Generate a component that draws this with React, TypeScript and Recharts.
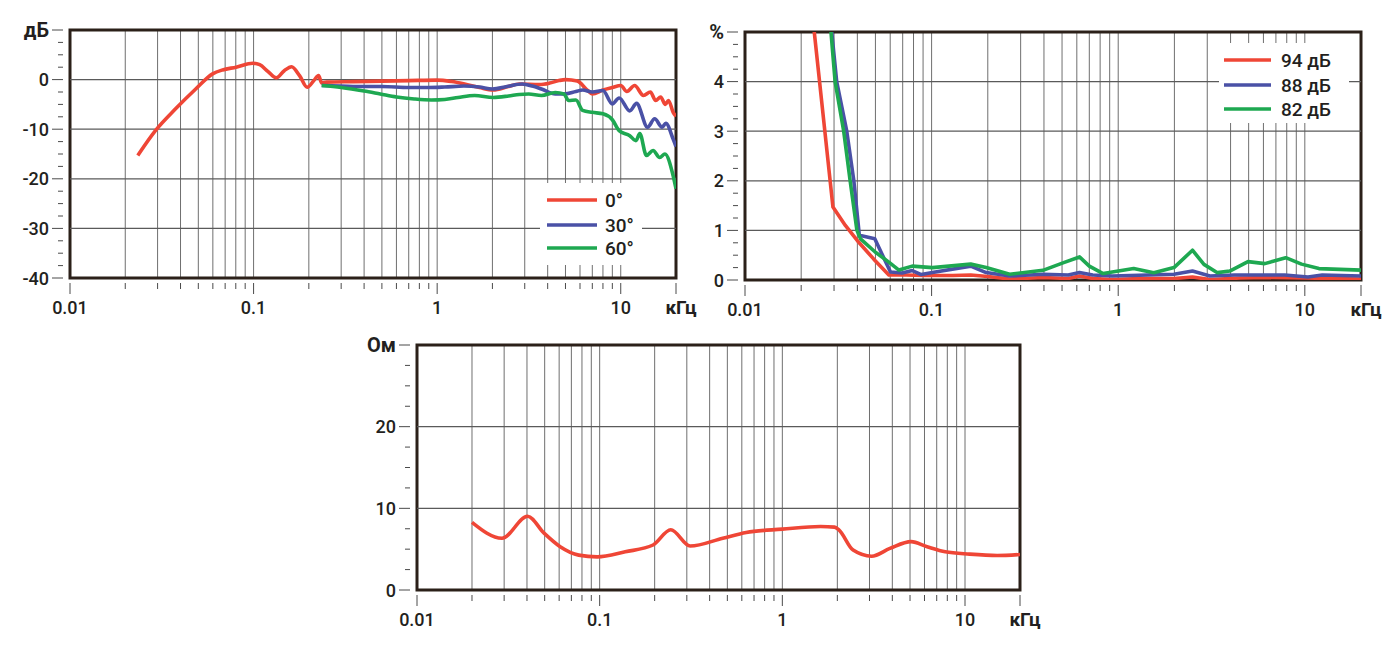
import React from 'react';
import {
  LineChart,
  Line,
  XAxis,
  YAxis,
  CartesianGrid,
  ReferenceLine,
  ReferenceArea,
  Legend,
} from 'recharts';

type Pt = [number, number];

const FONT = 'Roboto, "Noto Sans", sans-serif';
const INK = '#231f20';
const FRAME = '#2b2019';
const GRID = '#6f6f6f';
const GRID_H = '#5a5a5a';
const RED = '#ef4636';
const BLUE = '#4a51a6';
const GREEN = '#1ea851';

// frequency axis (kHz), shared by all three panels
const freqTicks = [
  0.01, 0.02, 0.03, 0.04, 0.05, 0.06, 0.07, 0.08, 0.09,
  0.1, 0.2, 0.3, 0.4, 0.5, 0.6, 0.7, 0.8, 0.9,
  1, 2, 3, 4, 5, 6, 7, 8, 9,
  10, 20,
];
const freqLabelValues = [0.01, 0.1, 1, 10, 20];
const freqLabelText = ['0.01', '0.1', '1', '10', 'кГц'];

// frequency response, dB
const respTicks = [
  -40, -37.5, -35, -32.5, -30, -27.5, -25, -22.5, -20, -17.5, -15, -12.5,
  -10, -7.5, -5, -2.5, 0, 2.5, 5, 7.5, 10,
];
const respMajors = [-40, -30, -20, -10, 0, 10];
const respLabels = ['-40', '-30', '-20', '-10', '0', 'дБ'];
const respGrid = [-30, -20, -10, 0];

const resp0: Pt[] = [
  [0.0234, -15.3], [0.0292, -10.3], [0.0376, -5.9], [0.0484, -1.9], [0.0598, 1.15],
  [0.0678, 1.95], [0.0803, 2.5], [0.099, 3.3], [0.108, 3.0], [0.12, 1.6],
  [0.133, 0.35], [0.147, 1.8], [0.161, 2.6], [0.178, 0.8], [0.196, -1.55],
  [0.213, -0.2], [0.226, 0.8], [0.235, -0.7], [0.25, -0.5], [0.35, -0.4],
  [0.5, -0.3], [0.7, -0.2], [1.0, -0.1], [1.2, -0.4], [1.41, -0.9],
  [1.7, -1.6], [2.02, -2.1], [2.44, -1.4], [2.8, -0.9], [3.6, -1.0],
  [4.1, -0.7], [4.6, -0.2], [5.0, 0], [5.8, -0.3], [6.6, -2.2],
  [7.0, -2.9], [8.0, -2.1], [9.0, -1.6], [10, -1.2], [10.8, -2.4],
  [11.9, -1.2], [13.3, -3.2], [14.5, -2.5], [15.5, -4.2], [16.5, -3.5],
  [17.5, -5.0], [18.2, -4.2], [19.3, -6.6], [20, -7.4],
];
const resp30: Pt[] = [
  [0.235, -1.2], [0.3, -1.3], [0.4, -1.4], [0.5, -1.4], [0.7, -1.6],
  [0.9, -1.6], [1.1, -1.5], [1.4, -1.3], [1.7, -1.5], [2.0, -1.9],
  [2.4, -1.4], [2.9, -0.9], [3.3, -1.3], [3.7, -1.9], [4.4, -2.9],
  [4.9, -2.9], [5.7, -2.4], [6.2, -2.1], [7.0, -2.5], [8.0, -2.2],
  [9.0, -4.9], [9.8, -3.7], [11.2, -6.3], [12.2, -4.8], [14, -9.6],
  [15.3, -7.9], [16.8, -9.6], [17.6, -8.8], [19.3, -12], [20, -13.5],
];
const resp60: Pt[] = [
  [0.235, -1.2], [0.3, -1.6], [0.4, -2.3], [0.49, -2.9], [0.6, -3.5],
  [0.75, -3.9], [0.93, -4.1], [1.1, -4.0], [1.3, -3.6], [1.6, -3.2],
  [2.02, -3.6], [2.45, -3.3], [2.8, -3.0], [3.15, -2.9], [3.7, -3.2],
  [4.4, -2.6], [4.9, -2.9], [5.2, -4.2], [5.7, -4.1], [6.2, -6.2],
  [7.0, -6.6], [8.0, -6.9], [9.0, -8.1], [9.8, -10.3], [11.2, -11.3],
  [12.1, -12.3], [12.7, -10.9], [13.8, -15.3], [15, -14.3], [16.3, -15.7],
  [17.4, -15], [19.3, -19.4], [20, -22],
];

// harmonic distortion, %
const thdTicks = [
  0, 0.25, 0.5, 0.75, 1, 1.25, 1.5, 1.75, 2, 2.25, 2.5, 2.75,
  3, 3.25, 3.5, 3.75, 4, 4.25, 4.5, 4.75, 5,
];
const thdMajors = [0, 1, 2, 3, 4, 5];
const thdLabels = ['0', '1', '2', '3', '4', '%'];
const thdGrid = [1, 2, 3, 4];

const thd94: Pt[] = [
  [0.0232, 5.2], [0.0296, 1.47], [0.0345, 1.1], [0.0407, 0.76], [0.049, 0.42],
  [0.059, 0.1], [0.073, 0.1], [0.09, 0.09], [0.13, 0.09], [0.162, 0.1],
  [0.2, 0.07], [0.262, 0.02], [0.395, 0.05], [0.54, 0.03], [0.62, 0.08],
  [0.73, 0.03], [0.93, 0.01], [1.3, 0.03], [1.99, 0.03], [2.5, 0.06],
  [3.1, 0.01], [4.5, 0.04], [6.3, 0.05], [10, 0.04], [20, 0.02],
];
const thd88: Pt[] = [
  [0.0288, 5.2], [0.031, 4.0], [0.0351, 3.0], [0.0383, 2.0], [0.041, 0.9],
  [0.0496, 0.83], [0.0602, 0.16], [0.0696, 0.14], [0.0787, 0.19], [0.088, 0.11],
  [0.101, 0.15], [0.162, 0.28], [0.196, 0.15], [0.262, 0.08], [0.395, 0.115],
  [0.54, 0.1], [0.62, 0.15], [0.73, 0.1], [0.93, 0.08], [1.99, 0.115],
  [2.5, 0.18], [3.1, 0.08], [4.2, 0.1], [7.8, 0.1], [10.4, 0.06],
  [12.4, 0.1], [20, 0.08],
];
const thd82: Pt[] = [
  [0.0286, 5.2], [0.0304, 4.0], [0.0338, 3.0], [0.0366, 2.0], [0.0398, 1.0],
  [0.0416, 0.83], [0.05, 0.56], [0.059, 0.36], [0.0668, 0.2], [0.0787, 0.28],
  [0.101, 0.25], [0.162, 0.32], [0.196, 0.25], [0.262, 0.115], [0.395, 0.195],
  [0.51, 0.35], [0.62, 0.465], [0.7, 0.28], [0.83, 0.13], [1.21, 0.23],
  [1.55, 0.148], [1.99, 0.25], [2.5, 0.6], [2.88, 0.315], [3.4, 0.148],
  [3.96, 0.18], [4.96, 0.37], [6.1, 0.33], [7.9, 0.45], [9.6, 0.32],
  [11.9, 0.23], [20, 0.2],
];

// impedance, Ohm
const impTicks = [0, 2.5, 5, 7.5, 10, 12.5, 15, 17.5, 20, 22.5, 25, 27.5, 30];
const impMajors = [0, 10, 20, 30];
const impLabels = ['0', '10', '20', 'Ом'];
const impGrid = [10, 20];

const impedance: Pt[] = [
  [0.02, 8.28], [0.0292, 6.34], [0.0403, 9.03], [0.0496, 6.96], [0.0608, 5.3],
  [0.0768, 4.27], [0.097, 4.06], [0.138, 4.68], [0.196, 5.51], [0.245, 7.37],
  [0.313, 5.38], [0.472, 6.34], [0.634, 7.04], [1.0, 7.45], [1.62, 7.78],
  [1.93, 7.7], [2.04, 7.37], [2.44, 4.89], [3.08, 4.14], [3.88, 5.09],
  [5.07, 5.92], [6.2, 5.3], [7.8, 4.68], [10.6, 4.39], [15, 4.22], [20, 4.35],
];

interface SeriesDef {
  name: string;
  color: string;
  points: Pt[];
  curve: 'monotone' | 'linear';
}

interface LegendBoxDef {
  left: number;
  top: number;
  width: number;
  height: number;
  rows: number[];
  lineFrom: number;
  lineTo: number;
  textX: number;
}

interface PanelProps {
  left: number;
  top: number;
  width: number;
  height: number;
  margin: { top: number; right: number; bottom: number; left: number };
  yDomain: [number, number];
  yTicks: number[];
  yMajors: number[];
  yLabels: string[];
  yGrid: number[];
  series: SeriesDef[];
  legend?: LegendBoxDef;
}

const FreqTick = (props: any) => {
  const { x, y, payload } = props;
  const i = freqLabelValues.indexOf(payload.value);
  const major = i >= 0;
  const unit = i === freqLabelValues.length - 1;
  return (
    <g>
      <line x1={x} x2={x} y1={y + 5} y2={y + (major ? 16 : 11)} stroke="#4a4a4a" strokeWidth={1} />
      {major && (
        <text
          x={unit ? x + 5 : x}
          y={y + 36}
          textAnchor="middle"
          fill={INK}
          fontFamily={FONT}
          fontSize={unit ? 19 : 18}
          fontWeight={unit ? 700 : 500}
        >
          {freqLabelText[i]}
        </text>
      )}
    </g>
  );
};

const makeValueTick = (majors: number[], labels: string[]) => (props: any) => {
  const { x, y, payload } = props;
  const i = majors.indexOf(payload.value);
  const major = i >= 0;
  const unit = i === majors.length - 1;
  return (
    <g>
      <line x1={x - (major ? 18 : 12)} x2={x - 7} y1={y} y2={y} stroke="#4a4a4a" strokeWidth={1} />
      {major && (
        <text
          x={x - 21}
          y={y}
          textAnchor="end"
          dominantBaseline="central"
          fill={INK}
          fontFamily={FONT}
          fontSize={unit ? 20 : 18}
          fontWeight={unit ? 700 : 500}
        >
          {labels[i]}
        </text>
      )}
    </g>
  );
};

const LegendBox = ({ box, series }: { box: LegendBoxDef; series: SeriesDef[] }) => (
  <svg width={box.width} height={box.height} style={{ display: 'block', background: '#fff' }}>
    {series.map((s, i) => (
      <g key={s.name}>
        <line x1={box.lineFrom} x2={box.lineTo} y1={box.rows[i]} y2={box.rows[i]} stroke={s.color} strokeWidth={3.6} />
        <text
          x={box.textX}
          y={box.rows[i]}
          dominantBaseline="central"
          fill={INK}
          fontFamily={FONT}
          fontSize={19}
          fontWeight={500}
        >
          {s.name}
        </text>
      </g>
    ))}
  </svg>
);

const Panel: React.FC<PanelProps> = (p) => (
  <div style={{ position: 'absolute', left: p.left, top: p.top, width: p.width, height: p.height }}>
    <LineChart width={p.width} height={p.height} margin={p.margin}>
      <CartesianGrid horizontal={false} stroke={GRID} strokeWidth={1} />
      {p.yGrid.map((v) => (
        <ReferenceLine key={v} y={v} stroke={GRID_H} strokeWidth={1.3} />
      ))}
      <XAxis
        type="number"
        dataKey="f"
        scale="log"
        domain={[0.01, 20]}
        ticks={freqTicks}
        interval={0}
        tick={FreqTick}
        tickLine={false}
        axisLine={false}
        tickSize={0}
        tickMargin={0}
        height={40}
        allowDataOverflow
      />
      <YAxis
        type="number"
        domain={p.yDomain}
        ticks={p.yTicks}
        interval={0}
        tick={makeValueTick(p.yMajors, p.yLabels)}
        tickLine={false}
        axisLine={false}
        tickSize={0}
        tickMargin={0}
        width={50}
        allowDataOverflow
      />
      {p.series.map((s) => (
        <Line
          key={s.name}
          name={s.name}
          data={s.points.map(([f, v]) => ({ f, v }))}
          dataKey="v"
          type={s.curve}
          stroke={s.color}
          strokeWidth={3.6}
          strokeLinejoin="round"
          dot={false}
          activeDot={false}
          isAnimationActive={false}
        />
      ))}
      <ReferenceArea
        x1={0.01}
        x2={20}
        y1={p.yDomain[0]}
        y2={p.yDomain[1]}
        fill="none"
        fillOpacity={0}
        stroke={FRAME}
        strokeWidth={3}
      />
      {p.legend && (
        <Legend
          layout="horizontal"
          align="center"
          verticalAlign="middle"
          wrapperStyle={{
            position: 'absolute',
            left: p.legend.left,
            top: p.legend.top,
            width: p.legend.width,
            height: p.legend.height,
          }}
          content={() => <LegendBox box={p.legend as LegendBoxDef} series={p.series} />}
        />
      )}
    </LineChart>
  </div>
);

const responseSeries: SeriesDef[] = [
  { name: '0°', color: RED, points: resp0, curve: 'monotone' },
  { name: '30°', color: BLUE, points: resp30, curve: 'monotone' },
  { name: '60°', color: GREEN, points: resp60, curve: 'monotone' },
];

const thdSeries: SeriesDef[] = [
  { name: '94 дБ', color: RED, points: thd94, curve: 'linear' },
  { name: '88 дБ', color: BLUE, points: thd88, curve: 'linear' },
  { name: '82 дБ', color: GREEN, points: thd82, curve: 'linear' },
];

const impedanceSeries: SeriesDef[] = [
  { name: 'Z', color: RED, points: impedance, curve: 'monotone' },
];

export default function App() {
  return (
    <div
      style={{
        position: 'absolute',
        left: 0,
        top: 0,
        width: 1393,
        height: 651,
        background: '#fff',
        fontFamily: FONT,
        overflow: 'hidden',
      }}
    >
      <Panel
        left={0}
        top={0}
        width={700}
        height={330}
        margin={{ top: 30, right: 24, bottom: 12, left: 20 }}
        yDomain={[-40, 10]}
        yTicks={respTicks}
        yMajors={respMajors}
        yLabels={respLabels}
        yGrid={respGrid}
        series={responseSeries}
        legend={{ left: 540, top: 183, width: 102, height: 82, rows: [17, 42, 65], lineFrom: 7, lineTo: 57, textX: 65 }}
      />
      <Panel
        left={690}
        top={0}
        width={703}
        height={330}
        margin={{ top: 32, right: 32, bottom: 10, left: 5 }}
        yDomain={[0, 5]}
        yTicks={thdTicks}
        yMajors={thdMajors}
        yLabels={thdLabels}
        yGrid={thdGrid}
        series={thdSeries}
        legend={{ left: 529, top: 43, width: 130, height: 80, rows: [17, 42, 66], lineFrom: 5, lineTo: 52, textX: 62 }}
      />
      <Panel
        left={340}
        top={330}
        width={720}
        height={321}
        margin={{ top: 15, right: 40, bottom: 21, left: 27 }}
        yDomain={[0, 30]}
        yTicks={impTicks}
        yMajors={impMajors}
        yLabels={impLabels}
        yGrid={impGrid}
        series={impedanceSeries}
      />
    </div>
  );
}
